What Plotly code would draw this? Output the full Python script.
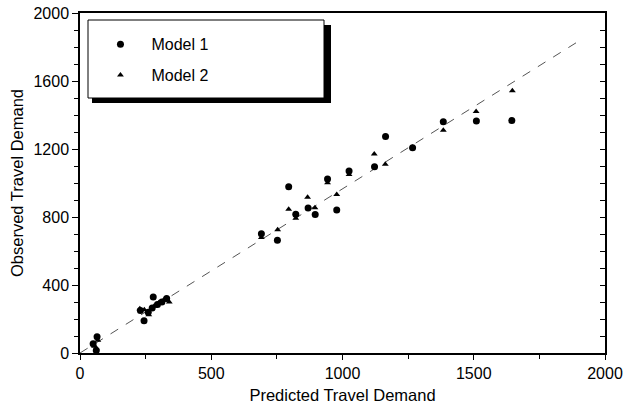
import plotly.graph_objects as go

# Model 1 (circles)
m1_pred = [50, 65, 62, 230, 244, 260, 275, 279, 295, 312, 330,
           691, 752, 795, 822, 869, 896, 943, 978, 1025, 1122, 1164, 1267, 1384, 1510, 1645]
m1_obs = [55, 95, 15, 250, 190, 240, 265, 330, 285, 300, 320,
          702, 663, 978, 816, 853, 814, 1024, 841, 1070, 1096, 1273, 1208, 1361, 1365, 1367]

# Model 2 (triangles)
m2_pred = [55, 68, 62, 228, 245, 262, 282, 300, 318, 340,
           691, 753, 795, 822, 867, 895, 943, 978, 1025, 1121, 1163, 1267, 1384, 1509, 1647]
m2_obs = [40, 75, 30, 260, 255, 225, 275, 295, 310, 300,
          680, 725, 845, 792, 916, 855, 1002, 933, 1050, 1171, 1110, 1210, 1310, 1420, 1543]

# Reference line
line_x = [0, 1890]
line_y = [0, 1825]

x_ticks = [0, 500, 1000, 1500, 2000]
y_ticks = [0, 400, 800, 1200, 1600, 2000]

FONT = "Liberation Sans, Arial, sans-serif"

fig = go.Figure()
fig.add_trace(go.Scatter(x=line_x, y=line_y, mode="lines", showlegend=False,
                         line=dict(color="#555555", width=1, dash="dash"),
                         hoverinfo="skip"))
fig.add_trace(go.Scatter(x=m1_pred, y=m1_obs, mode="markers", name="Model 1",
                         legendgroup="a",
                         marker=dict(symbol="circle", size=7, color="black")))
fig.add_trace(go.Scatter(x=m2_pred, y=m2_obs, mode="markers", name="Model 2",
                         legendgroup="b",
                         marker=dict(symbol="triangle-up", size=6, color="black")))
# empty trace to activate right axis
fig.add_trace(go.Scatter(x=[None], y=[None], yaxis="y2", showlegend=False))

fig.update_layout(
    width=626, height=408,
    margin=dict(l=80, r=21, t=13, b=55),
    paper_bgcolor="white", plot_bgcolor="white",
    font=dict(family=FONT, size=16, color="black"),
    xaxis=dict(range=[0, 2000], tickvals=x_ticks, ticks="outside", ticklen=5,
               tickwidth=1.2, tickcolor="black", automargin=False,
               tickfont=dict(size=16),
               minor=dict(dtick=250, ticks="outside", ticklen=4, tickcolor="black"),
               showline=True, linecolor="black", linewidth=1.5, mirror=True,
               showgrid=False, zeroline=False,
               title=dict(text="Predicted Travel Demand", standoff=8,
                          font=dict(size=16.5))),
    yaxis=dict(range=[0, 2000], tickvals=y_ticks, ticks="outside", ticklen=6,
               tickwidth=1.2, tickcolor="black", automargin=False,
               tickfont=dict(size=16),
               minor=dict(dtick=100, ticks="outside", ticklen=4, tickcolor="black"),
               showline=True, linecolor="black", linewidth=1.5,
               showgrid=False, zeroline=False,
               title=dict(text="Observed Travel Demand", standoff=6,
                          font=dict(size=16.5))),
    yaxis2=dict(range=[0, 2000], overlaying="y", side="right", dtick=100,
                ticks="inside", ticklen=5, tickcolor="black", showticklabels=False,
                showline=True, linecolor="black", linewidth=1.5, automargin=False,
                showgrid=False, zeroline=False),
    legend=dict(x=0.018, y=0.958, xanchor="left", yanchor="top",
                bgcolor="rgba(0,0,0,0)", borderwidth=0,
                traceorder="grouped", tracegroupgap=7,
                font=dict(size=16), itemwidth=52),
    shapes=[
        dict(type="rect", xref="paper", yref="paper", layer="above",
             x0=(92 - 80) / 525, x1=(331 - 80) / 525,
             y0=(353 - 103) / 340, y1=(353 - 25) / 340,
             fillcolor="black", line=dict(width=0)),
        dict(type="rect", xref="paper", yref="paper", layer="above",
             x0=(88 - 80) / 525, x1=(324 - 80) / 525,
             y0=(353 - 98) / 340, y1=(353 - 20) / 340,
             fillcolor="white", line=dict(color="black", width=1)),
    ],
)

fig.write_html("out.html", config={"displayModeBar": False},
               post_script="document.body.style.margin='0';")
